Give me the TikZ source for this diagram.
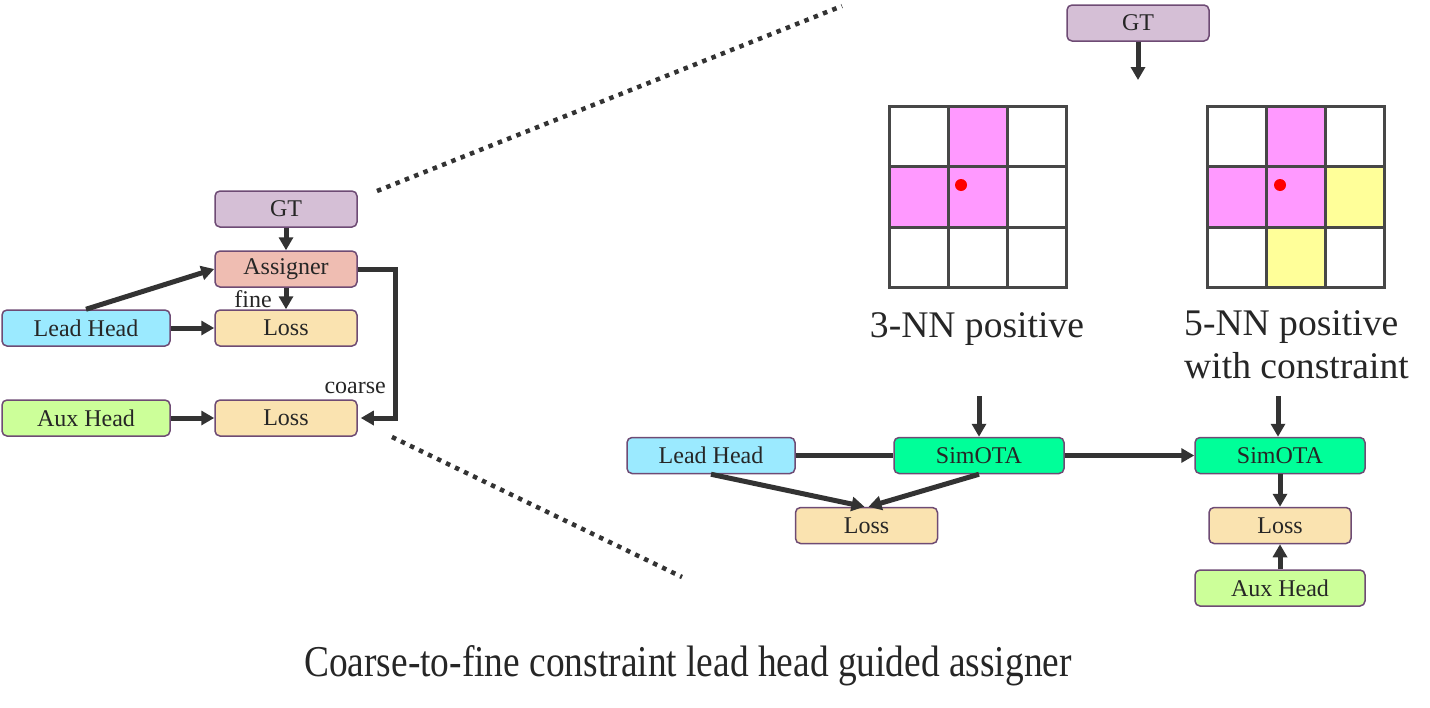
\documentclass[tikz,border=0pt]{standalone}
\usepackage{fontspec}
\setmainfont{Liberation Serif}
\newfontfamily\rmtimes{Liberation Serif}
\newfontfamily\capfont[FakeStretch=0.85]{Liberation Serif}
\usetikzlibrary{arrows.meta}
\definecolor{bord}{HTML}{6E4B74}
\definecolor{gtc}{HTML}{D5BFD6}
\definecolor{asgc}{HTML}{EFBDB2}
\definecolor{lossc}{HTML}{FAE3B0}
\definecolor{leadc}{HTML}{9BEAFF}
\definecolor{auxc}{HTML}{CCFF99}
\definecolor{simc}{HTML}{00FF99}
\definecolor{magc}{HTML}{FF99FF}
\definecolor{yelc}{HTML}{FFFF99}
\definecolor{arrc}{HTML}{333333}
\definecolor{txtc}{HTML}{262626}
\tikzset{
  box/.style={draw=bord, line width=1.5pt, rounded corners=5pt, minimum height=36pt,
    inner sep=0pt, text=txtc, font=\rmtimes\fontsize{24}{28}\selectfont},
  narrowbox/.style={box, minimum width=142pt},
  widebox/.style={box, minimum width=168pt},
  simbox/.style={box, minimum width=170pt, fill=simc},
  arr/.style={draw=arrc, line width=5pt, -{Triangle[length=13pt,width=14pt]}},
  plainline/.style={draw=arrc, line width=5pt},
  dotline/.style={draw=arrc, line width=4.5pt, dash pattern=on 4.5pt off 5.5pt},
  gridline/.style={draw=arrc!90!white, line width=3pt},
  lbl/.style={text=txtc, inner sep=0pt, font=\rmtimes\fontsize{24}{28}\selectfont},
  biglbl/.style={text=txtc, inner sep=0pt, font=\rmtimes\fontsize{37.6}{43}\selectfont},
}
\begin{document}
\begin{tikzpicture}[x=1pt, y=-1pt]
\useasboundingbox (0,0) rectangle (1430,707);

% ---------- left diagram ----------
\node[narrowbox, fill=gtc] (gtL) at (286,209) {GT};
\node[narrowbox, fill=asgc] (asg) at (286,269) {Assigner};
\node[narrowbox, fill=lossc] (lossA) at (286,328) {Loss};
\node[narrowbox, fill=lossc] (lossB) at (286,418) {Loss};
\node[widebox, fill=leadc] (leadL) at (86,328) {Lead Head};
\node[widebox, fill=auxc] (auxL) at (86,418) {Aux Head};

\draw[arr] (gtL.south) -- (asg.north);
\draw[arr] (leadL.north) -- (asg.west);
\draw[arr] (asg.south) -- (lossA.north);
\draw[arr] (leadL.east) -- (lossA.west);
\draw[arr] (auxL.east) -- (lossB.west);
\draw[arr, shorten >=3pt] (asg.east) -- ++(38,0) |- (lossB.east);
\node[lbl, anchor=base east] (fine) at (272,307) {fine};
\node[lbl, anchor=base east] (coarse) at (386,393) {coarse};

% ---------- zoom lines ----------
\draw[dotline] (377,191) -- (842,6);
\draw[dotline] (392,437) -- (682,577);

% ---------- right: GT and grids ----------
\node[narrowbox, fill=gtc] (gtR) at (1138,23) {GT};
\coordinate (gtEnd) at (1138,80);
\draw[arr] (gtR.south) -- (gtEnd);

% grid 1
\fill[magc] (948,106) rectangle (1007,166);
\fill[magc] (889,166) rectangle (1007,227);
\draw[gridline] (889,106) rectangle (1066,287);
\draw[gridline] (948,106) -- (948,287) (1007,106) -- (1007,287)
                (889,166) -- (1066,166) (889,227) -- (1066,227);
\fill[red] (961,185) circle (6pt);

% grid 2
\fill[magc] (1266,106) rectangle (1325,166);
\fill[magc] (1207,166) rectangle (1325,227);
\fill[yelc] (1325,166) rectangle (1384,227);
\fill[yelc] (1266,227) rectangle (1325,287);
\draw[gridline] (1207,106) rectangle (1384,287);
\draw[gridline] (1266,106) -- (1266,287) (1325,106) -- (1325,287)
                (1207,166) -- (1384,166) (1207,227) -- (1384,227);
\fill[red] (1280,185) circle (6pt);

\node[biglbl, anchor=base] (lbl3) at (977,337) {3-NN positive};
\node[biglbl, anchor=west, align=left] (lbl5) at (1184,345) {5-NN positive\\with constraint};

% ---------- right: flow ----------
\node[simbox] (simA) at (979,455.5) {SimOTA};
\node[simbox] (simB) at (1280,455.5) {SimOTA};
\node[widebox, fill=leadc] (leadR) at (711,455.5) {Lead Head};
\node[narrowbox, fill=lossc] (lossM) at (866.5,525.5) {Loss};
\node[narrowbox, fill=lossc] (lossR) at (1280,525.5) {Loss};
\node[box, minimum width=170pt, fill=auxc] (auxR) at (1280,588) {Aux Head};

\coordinate (inA) at (979,396);
\coordinate (inB) at (1278,396);
\draw[arr] (inA) -- (simA.north);
\draw[arr] (inB) -- (inB |- simB.north);
\draw[plainline] (leadR.east) -- (simA.west);
\draw[arr] (simA.east) -- (simB.west);
\draw[arr] (leadR.south) -- ([xshift=-2pt]lossM.north);
\draw[arr] (simA.south) -- ([xshift=2pt]lossM.north);
\draw[arr] (simB.south) -- (lossR.north);
\draw[arr] (auxR.north) -- (lossR.south);

% ---------- caption ----------
\node[text=txtc, inner sep=0pt, anchor=base, font=\capfont\fontsize{44}{48}\selectfont] (cap)
  at (688,676) {Coarse-to-fine constraint lead head guided assigner};
\end{tikzpicture}
\end{document}
